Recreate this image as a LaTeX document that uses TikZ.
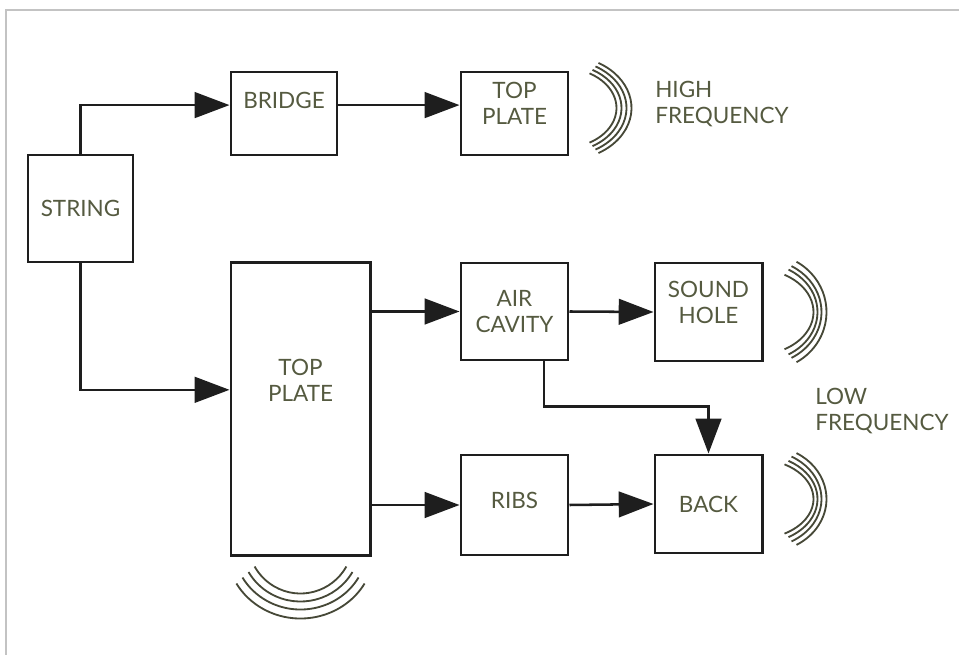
\documentclass[tikz,border=0pt]{standalone}
\usepackage{fontspec}
\setmainfont{Lato}
\usetikzlibrary{arrows.meta,calc}
\definecolor{inkgray}{RGB}{85,90,64}
\definecolor{wavecol}{RGB}{70,72,55}
\definecolor{linecol}{RGB}{30,30,30}
\definecolor{framecol}{RGB}{195,195,195}
\begin{document}
\begin{tikzpicture}[x=0.025cm,y=-0.025cm]
    \tikzstyle{block}=[rectangle,draw=linecol,line width=2.1pt,text=inkgray,align=center,inner sep=0pt,font=\fontsize{16}{18.5}\selectfont]
    \tikzstyle{note}=[text=inkgray,align=left,anchor=west,inner sep=0pt,font=\fontsize{16}{18.5}\selectfont]
    \tikzstyle{flow}=[draw=linecol,line width=1.8pt,-{Triangle[length=0.87cm,width=0.64cm]}]
    \tikzstyle{wave}=[draw=wavecol,line width=1.3pt]

    \useasboundingbox (0,0) rectangle (959,655);
    \draw[framecol,line width=1pt] (6,655) -- (6,10) -- (959,10);

    \node[block,minimum width=2.625cm,minimum height=2.675cm] (string) at (80.5,208.5) {STRING};
    \node[block,minimum width=2.65cm,minimum height=2.075cm,text depth=0.65cm] (bridge) at (284,113.5) {BRIDGE};
    \node[block,minimum width=2.675cm,minimum height=2.075cm,text depth=0.525cm] (hiplate) at (514.5,113.5) {TOP\\PLATE};
    \node[block,minimum width=3.475cm,minimum height=7.3cm,text depth=1.45cm] (plate) at (300.5,409) {TOP\\PLATE};
    \node[block,minimum width=2.675cm,minimum height=2.425cm] (cavity) at (514.5,311.5) {AIR\\CAVITY};
    \node[block,minimum width=2.675cm,minimum height=2.45cm,text depth=0.475cm] (hole) at (708.5,312) {SOUND\\HOLE};
    \node[block,minimum width=2.675cm,minimum height=2.5cm,text depth=0.225cm] (ribs) at (514.5,505) {RIBS};
    \node[block,minimum width=2.675cm,minimum height=2.45cm] (back) at (708.5,504) {BACK};

    \node[note] (high) at (655,104) {HIGH\\FREQUENCY};
    \node[note] (low) at (815,411) {LOW\\FREQUENCY};

    \draw[flow] (string.north) |- (bridge.mid west);
    \draw[flow] (bridge.mid east) -- (bridge.mid east -| hiplate.west);
    \draw[flow] (string.south) |- ($(plate.north west)!0.435!(plate.south west)$);
    \draw[flow] (cavity.west -| plate.east) -- (cavity.west);
    \draw[flow] (ribs.west -| plate.east) -- (ribs.west);
    \draw[flow] (cavity.east) -- (hole.west);
    \draw[flow] (ribs.east) -- (back.west);
    \draw[flow] ($(cavity.south west)!0.77!(cavity.south east)$) -- ++(0,45) -| (back.north);

    \foreach \rx/\ry/\sx in {54/40/-7,58/44/-6,62/48/-5,66/52/-4}
        \draw[wave] (hiplate.east) ++(\sx,-5.5) ++(-60:{\rx} and {\ry}) arc[start angle=-60,end angle=60,x radius=\rx,y radius=\ry];
    \foreach \rx/\ry/\sx in {58/43/-8,58/49/-4,60/53/-2,60/58/3}
        \draw[wave] (hole.east) ++(\sx,0) ++(-60:{\rx} and {\ry}) arc[start angle=-60,end angle=60,x radius=\rx,y radius=\ry];
    \foreach \rx/\ry/\sx in {58/40/-8,58/44/-4,60/49/-2,60/53/3}
        \draw[wave] (back.east) ++(\sx,-5) ++(-60:{\rx} and {\ry}) arc[start angle=-60,end angle=60,x radius=\rx,y radius=\ry];
    \foreach \rx/\ry/\sy in {53/54/-17,60/59/-14,67/64/-11,74/70/-8}
        \draw[wave] (plate.south) ++(0,\sy) ++(30:{\rx} and {\ry}) arc[start angle=30,end angle=150,x radius=\rx,y radius=\ry];

\end{tikzpicture}
\end{document}
